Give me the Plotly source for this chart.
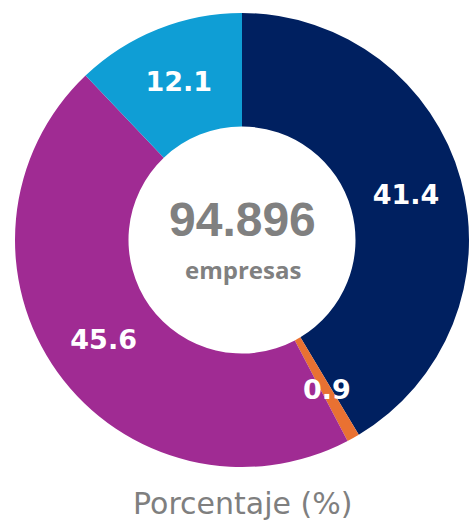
import math
import plotly.graph_objects as go

categories = ["A", "B", "C", "D"]
values = [41.4, 0.9, 45.6, 12.1]
colors = ["#002060", "#E97132", "#A02B93", "#0F9ED5"]
center_total = "94.896"
center_label = "empresas"
title_text = "Porcentaje (%)"

W, H = 469, 530
cx, cy, r = 243, 240, 228
HOLE = 0.5

# slices too thin for inside text get their label drawn as an annotation
positions = ["inside" if v >= 5 else "none" for v in values]

label_font = dict(family="DejaVu Sans", size=27, color="white", weight="bold")

fig = go.Figure(go.Pie(
    labels=categories,
    values=values,
    sort=False,
    direction="clockwise",
    rotation=0,
    hole=HOLE,
    marker=dict(colors=colors, line=dict(width=0)),
    texttemplate="%{value:.1f}",
    textposition=positions,
    insidetextorientation="horizontal",
    textfont=label_font,
    showlegend=False,
    hoverinfo="label+value",
    domain=dict(x=[(cx - r) / W, min(1.0, (cx + r) / W)],
                y=[(H - cy - r) / H, (H - cy + r) / H]),
))

annotations = []
total = sum(values)
cum = 0.0
rm = r * (1 + HOLE) / 2
for v, pos in zip(values, positions):
    theta = 2 * math.pi * (cum + v / 2) / total
    cum += v
    if pos == "none":
        px = cx + rm * math.sin(theta)
        py = cy - rm * math.cos(theta)
        annotations.append(dict(text=f"{v:.1f}", x=px / W, y=(H - py) / H,
                                xref="paper", yref="paper", showarrow=False,
                                xanchor="center", yanchor="middle", font=label_font))

annotations += [
    dict(text=center_total, x=cx / W, y=(H - 219) / H, xref="paper", yref="paper",
         showarrow=False, xanchor="center", yanchor="middle",
         font=dict(family="Liberation Sans", size=48, color="#808080", weight="bold")),
    dict(text=center_label, x=cx / W, y=(H - 269) / H, xref="paper", yref="paper",
         showarrow=False, xanchor="center", yanchor="middle",
         font=dict(family="Open Sans", size=24, color="#808080", weight="bold")),
    dict(text=title_text, x=cx / W, y=(H - 503) / H, xref="paper", yref="paper",
         showarrow=False, xanchor="center", yanchor="middle",
         font=dict(family="DejaVu Sans", size=30, color="#7F7F7F")),
]

fig.update_layout(
    width=W, height=H,
    margin=dict(l=0, r=0, t=0, b=0),
    paper_bgcolor="white",
    plot_bgcolor="white",
    annotations=annotations,
)

fig.write_html("out.html",
               config={"displayModeBar": False},
               post_script="document.body.style.margin='0';document.body.style.overflow='hidden';")
